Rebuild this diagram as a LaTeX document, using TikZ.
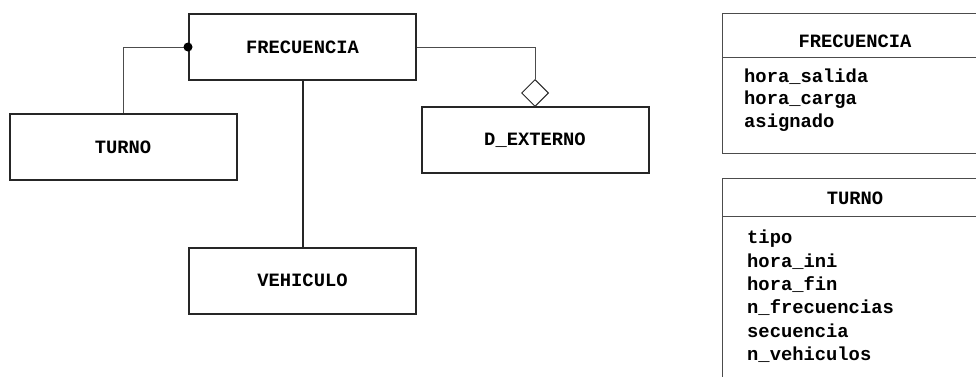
\documentclass[tikz,border=0pt]{standalone}
\usepackage{fontspec}
\setmonofont{Liberation Mono}
\usepackage{tikz}
\usetikzlibrary{shapes.geometric,positioning}
\newcommand{\letra}{\ttfamily\bfseries\fontsize{18.8}{22}\selectfont}
\tikzset{
  entidad/.style={draw=black!85,line width=2pt,inner sep=0pt,
    minimum width=227pt,minimum height=66pt,font=\letra},
  enlace/.style={draw=black!70,line width=1pt},
  tabla/.style={draw=black!70,line width=1pt},
  atrib/.style={anchor=west,inner sep=0pt,font=\letra},
  titulo/.style={inner sep=0pt,font=\letra}
}

\begin{document}
\begin{tikzpicture}[x=1pt,y=-1pt]
  \useasboundingbox (0,0) rectangle (976,376);

  % entidades
  \node [entidad] (frec) at (302.5,47) {FRECUENCIA};
  \node [entidad] (turno) at (123,147) {TURNO};
  \node [entidad] (veh) at (302.5,280.5) {VEHICULO};
  \node [entidad] (dext) at (535,140) {D\_EXTERNO};
  \node [diamond,draw=black!85,line width=1pt,fill=white,inner sep=0pt,
    minimum width=27pt,minimum height=27pt,anchor=south] (agreg) at ([yshift=-1pt]dext.north) {};

  % enlaces
  \draw [enlace] (turno.north) |- (frec.west);
  \fill (frec.west) circle (4.5pt);
  \draw [enlace] (frec.east) -| (agreg.north);
  \draw [line width=2pt,black!85] (frec.south) -- (veh.north);

  % tabla FRECUENCIA
  \draw [tabla] (722,13) rectangle (990,153);
  \draw [tabla] (722,57) -- (990,57);
  \node [titulo] (tfrec) at (855,41) {FRECUENCIA};
  \foreach \t [count=\i] in {hora\_salida,hora\_carga,asignado}
    \node [atrib] (af\i) at (744,54+23*\i) {\t};

  % tabla TURNO
  \draw [tabla] (722,178) rectangle (990,390);
  \draw [tabla] (722,216) -- (990,216);
  \node [titulo] (tturno) at (855,198) {TURNO};
  \foreach \t [count=\i] in {tipo,hora\_ini,hora\_fin,n\_frecuencias,secuencia,n\_vehiculos}
    \node [atrib] (at\i) at (747,215+23.2*\i) {\t};
\end{tikzpicture}
\end{document}
